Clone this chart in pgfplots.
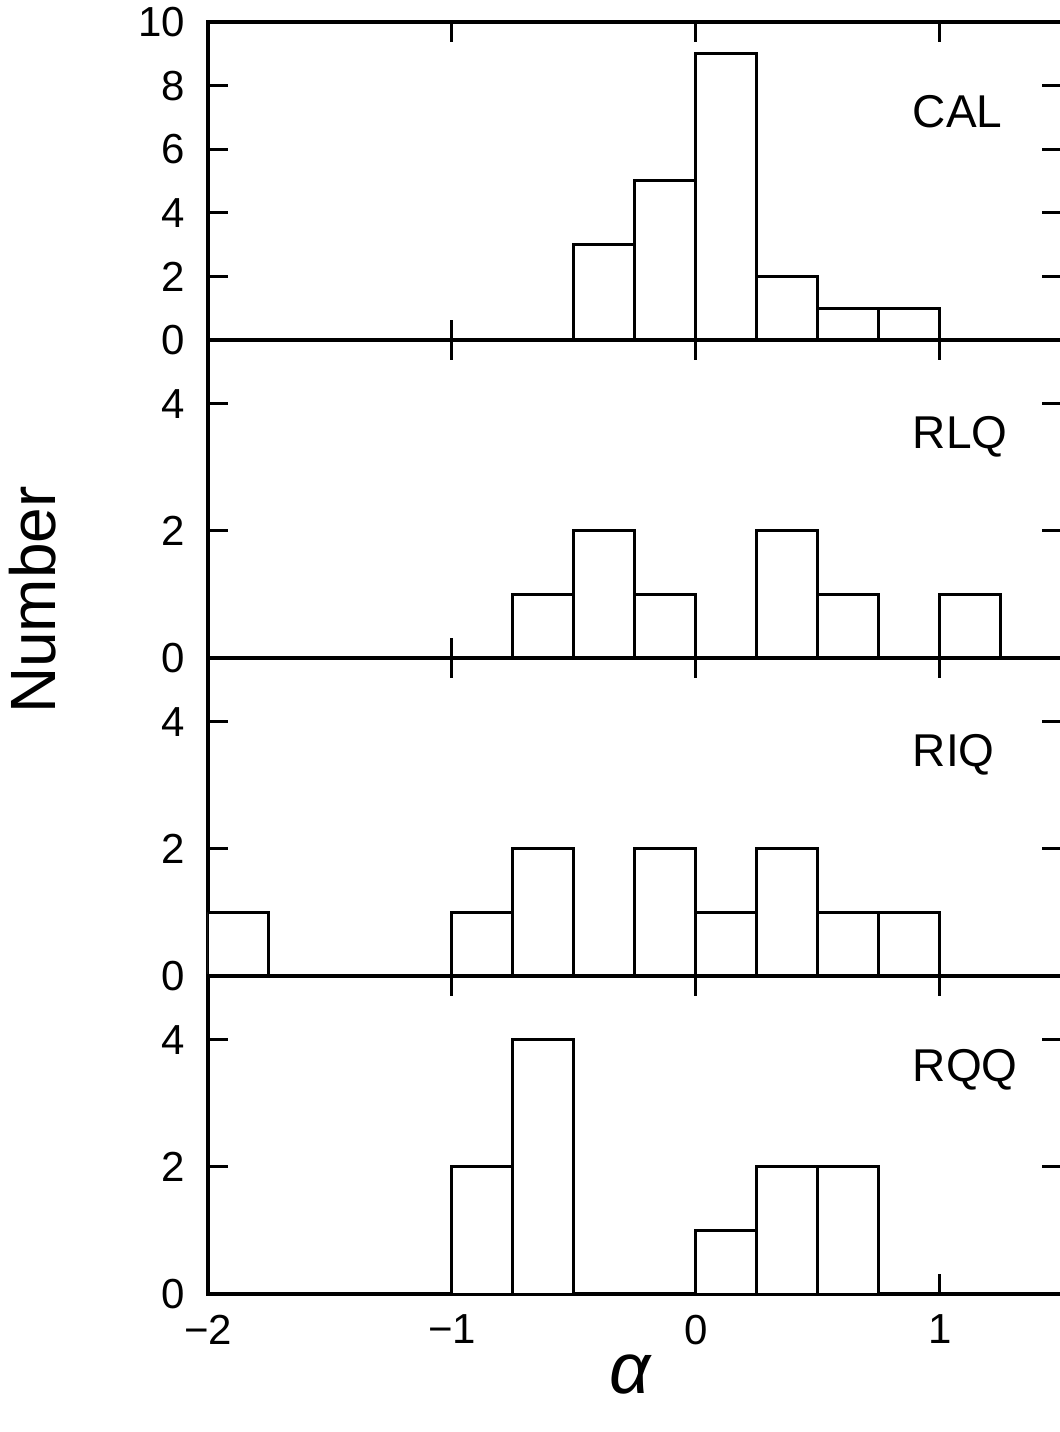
\documentclass[border=0pt]{standalone}
\usepackage{fontspec}
\setmainfont{Liberation Sans}
\usepackage{pgfplots}
\pgfplotsset{compat=1.18}
\tikzset{lab/.style={anchor=west, font=\fontsize{23}{28}\selectfont}}
\begin{document}
\begin{tikzpicture}
\pgfplotsset{
 hist/.style={
  scale only axis, width=427pt, height=159pt,
  xmin=-2, xmax=1.5, ymin=0,
  axis line style={line width=2pt},
  tick style={line width=1.5pt, black},
  major tick length=10pt,
  tick align=inside,
  xtick={-2,-1,0,1}, xticklabels={},
  ticklabel style={font=\fontsize{21}{24}\selectfont},
  yticklabel style={xshift=-8pt},
 },
 barsty/.style={ybar, bar width=0.25, bar shift=0pt, draw=black, fill=white, line width=1.5pt},
}
% panel 1: CAL
\begin{axis}[hist, name=p1, at={(0,477pt)}, anchor=south west,
  ymax=10, ytick={0,2,4,6,8,10}, yticklabels={0,2,4,6,8,10}]
\addplot[barsty] coordinates {(-0.375,3) (-0.125,5) (0.125,9) (0.375,2) (0.625,1) (0.875,1)};
\node[lab] at (axis cs:0.86,7.18) {CAL};
\end{axis}
% panel 2: RLQ
\begin{axis}[hist, name=p2, at={(0,318pt)}, anchor=south west,
  ymax=5, ytick={0,2,4}, yticklabels={0,2,4}]
\addplot[barsty] coordinates {(-0.625,1) (-0.375,2) (-0.125,1) (0.375,2) (0.625,1) (1.125,1)};
\node[lab] at (axis cs:0.86,3.48) {RLQ};
\end{axis}
% panel 3: RIQ
\begin{axis}[hist, name=p3, at={(0,159pt)}, anchor=south west,
  ymax=5, ytick={0,2,4}, yticklabels={0,2,4}]
\addplot[barsty] coordinates {(-1.875,1) (-0.875,1) (-0.625,2) (-0.125,2) (0.125,1) (0.375,2) (0.625,1) (0.875,1)};
\node[lab] at (axis cs:0.86,3.48) {RIQ};
\end{axis}
% panel 4: RQQ
\begin{axis}[hist, name=p4, at={(0,0)}, anchor=south west,
  ymax=5, ytick={0,2,4}, yticklabels={0,2,4},
  xticklabels={−2,−1,0,1}, xticklabel style={yshift=-7pt}]
\addplot[barsty] coordinates {(-0.875,2) (-0.625,4) (0.125,1) (0.375,2) (0.625,2)};
\node[lab] at (axis cs:0.86,3.53) {RQQ};
\end{axis}
\node[rotate=90, font=\fontsize{32}{36}\selectfont] at (-87.5pt,347pt) {Number};
\node[font=\fontsize{36}{40}\selectfont\itshape] at (211pt,-40.5pt) {α};
\pgfresetboundingbox
\path[use as bounding box] (-104pt,-69pt) rectangle (426pt,647pt);
\end{tikzpicture}
\end{document}
